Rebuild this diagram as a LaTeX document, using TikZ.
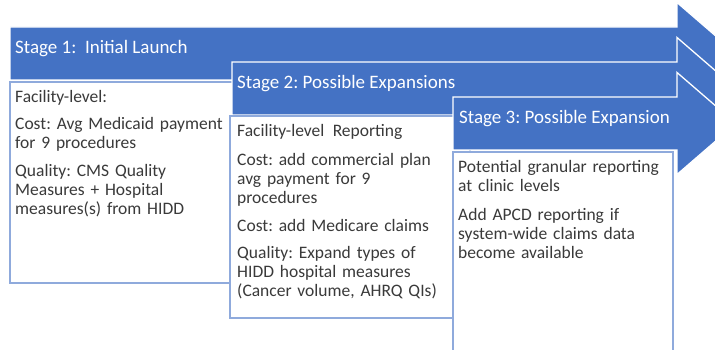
\documentclass[tikz,border=0pt]{standalone}
\usepackage{fontspec}
\setmainfont{Carlito}
\frenchspacing
\definecolor{ablue}{HTML}{4472C4}
\definecolor{bline}{HTML}{8FAADC}
\definecolor{txt}{HTML}{3A3A3A}
\newcommand{\stgarrow}[2]{%
  \draw[arrowshape] (#1,#2) -- (677,#2) -- (677,#2-24.5) -- (736,#2+26.5)
    -- (677,#2+77.5) -- (677,#2+53) -- (#1,#2+53) -- cycle;}
\begin{document}
\begin{tikzpicture}[x=1pt,y=-1pt,
  arrowshape/.style={fill=ablue, draw=white, line width=1.3pt, line join=miter},
  boxshape/.style={fill=white, draw=bline, line width=1.3pt},
  stagelbl/.style={anchor=base west, text=white, inner sep=0pt,
    font=\fontsize{19}{20}\selectfont},
  para/.style={anchor=base west, align=left, text=txt, inner sep=0pt,
    text width=240pt, font=\fontsize{17.5}{19}\selectfont}]
\useasboundingbox (0,0) rectangle (715,350);
\begin{scope}
\clip (0,0) rectangle (715,350);
% Stage 1
\stgarrow{10}{27}
\draw[boxshape] (10,82) rectangle (240,283);
\node[stagelbl] (s1) at (15,54) {Stage 1:\ \ Initial Launch};
\node[para] (p1a) at (15,103) {Facility-level:};
\node[para] (p1b) at (15,130) {Cost: Avg Medicaid payment\\for 9 procedures};
\node[para] (p1c) at (15,177) {Quality: CMS Quality\\Measures + Hospital\\measures(s) from HIDD};
% Stage 2
\stgarrow{232}{62}
\draw[boxshape] (230,116) rectangle (470,318);
\node[stagelbl] (s2) at (237,89) {Stage 2: Possible Expansions};
\node[para] (p2a) at (237,137) {Facility-level\kern2.5pt\ Reporting};
\node[para] (p2b) at (237,165) {Cost: add commercial plan\\avg payment for 9\\procedures};
\node[para] (p2c) at (237,231) {Cost: add Medicare claims};
\node[para] (p2d) at (237,258) {Quality: Expand types of\\HIDD hospital measures\\(Cancer volume, AHRQ QIs)};
% Stage 3
\stgarrow{453}{97}
\draw[boxshape] (453,152) rectangle (673,360);
\node[stagelbl] (s3) at (459,124) {Stage 3: Possible Expansion};
\node[para] (p3a) at (458,172) {Potential granular reporting\\at clinic levels};
\node[para] (p3b) at (458,220) {Add APCD reporting if\\system-wide claims data\\become available};
\end{scope}
\end{tikzpicture}
\end{document}
